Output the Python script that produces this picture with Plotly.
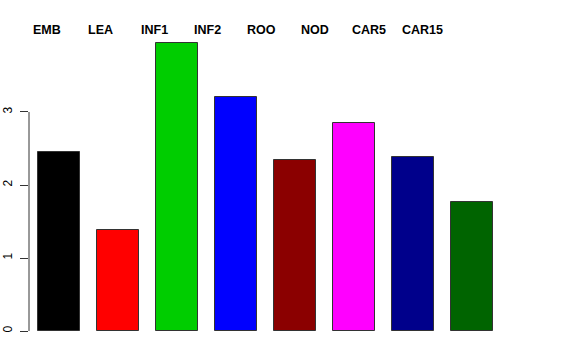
import plotly.graph_objects as go

categories = ["EMB", "LEA", "INF1", "INF2", "ROO", "NOD", "CAR5", "CAR15"]
values = [2.45, 1.38, 3.95, 3.21, 2.34, 2.85, 2.38, 1.77]
colors = ["#000000", "#FF0000", "#00CD00", "#0000FF", "#8B0000", "#FF00FF", "#00008B", "#006400"]
y_ticks = [0, 1, 2, 3]

positions = list(range(len(categories)))

fig = go.Figure()
fig.add_trace(go.Bar(
    x=positions, y=values, width=0.7,
    marker=dict(color=colors, line=dict(color="#333333", width=1)),
    hoverinfo="skip", showlegend=False,
))

# category labels across the top (slightly tighter spacing than bars, as in the reference)
for i, name in enumerate(categories):
    fig.add_annotation(
        x=-0.2 + 0.908 * i, y=1.0, xref="x", yref="paper",
        yanchor="middle", xanchor="center", yshift=-10,
        text="<b>%s</b>" % name, showarrow=False,
        font=dict(family="Liberation Sans, Arial, sans-serif", size=12.5, color="black"),
    )

# y axis line only spanning the tick range
fig.add_shape(type="line", xref="paper", yref="y", x0=0, x1=0,
              y0=min(y_ticks), y1=max(y_ticks), line=dict(color="#333333", width=1))

fig.update_layout(
    width=576, height=360,
    margin=dict(l=29, r=29, t=20, b=20, autoexpand=False),
    paper_bgcolor="white", plot_bgcolor="white",
    bargap=0,
    xaxis=dict(range=[-0.508, 8.27], visible=False, automargin=False),
    yaxis=dict(range=[-0.123, 4.26], tickvals=y_ticks, ticktext=[str(t) for t in y_ticks],
               automargin=False,
               showgrid=False, zeroline=False, showline=False,
               ticks="outside", ticklen=8, tickcolor="#333333", tickangle=-90,
               ticklabelstandoff=3,
               tickfont=dict(family="Liberation Sans, Arial, sans-serif", size=12, color="black")),
)

fig.write_html("out.html", config={"displayModeBar": False},
               post_script="document.body.style.margin='0';")
